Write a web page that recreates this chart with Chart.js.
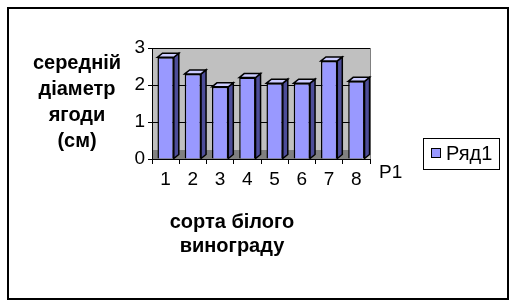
<!DOCTYPE html>
<html>
<head>
<meta charset="utf-8">
<script src="https://cdn.jsdelivr.net/npm/chart.js@4.4.1/dist/chart.umd.min.js"></script>
<style>
html,body{margin:0;padding:0;background:#fff;}
#wrap{position:relative;width:517px;height:307px;}
</style>
</head>
<body>
<div id="wrap"><canvas id="c" width="517" height="307"></canvas></div>
<script>
const categories = ['1','2','3','4','5','6','7','8'];
const seriesName = 'Ряд1';
const seriesValues = [2.75, 2.3, 1.95, 2.2, 2.05, 2.05, 2.65, 2.1];
const yTickValues = [0, 1, 2, 3];
const yTitleLines = ['середній', 'діаметр', 'ягоди', '(см)'];
const xTitleLines = ['сорта білого', 'винограду'];
const depthLabel = 'P1';

const FONT = '"Liberation Sans", Arial, sans-serif';

const deco = {
  id: 'deco',
  beforeDraw(chart) {
    const {ctx, chartArea: a} = chart;
    ctx.save();
    // back wall
    ctx.fillStyle = '#C0C0C0';
    ctx.fillRect(a.left, a.top, a.right - a.left, a.bottom - a.top);
    // floor
    ctx.fillStyle = '#808080';
    ctx.beginPath();
    ctx.moveTo(a.left, a.bottom - 9);
    ctx.lineTo(a.right, a.bottom - 9);
    ctx.lineTo(a.right - 8, a.bottom);
    ctx.lineTo(a.left, a.bottom);
    ctx.closePath();
    ctx.fill();
    // right wall edge
    ctx.strokeStyle = '#808080';
    ctx.lineWidth = 1;
    ctx.beginPath();
    ctx.moveTo(a.right + 0.5, a.top);
    ctx.lineTo(a.right + 0.5, a.bottom);
    ctx.stroke();
    ctx.restore();
  },
  afterDatasetsDraw(chart) {
    const {ctx} = chart;
    const meta = chart.getDatasetMeta(0);
    const dx = 5, dy = -4;
    ctx.save();
    ctx.lineWidth = 1.5;
    ctx.strokeStyle = '#000';
    meta.data.forEach(bar => {
      const p = bar.getProps(['x','y','base','width'], true);
      const r = p.x + p.width / 2, l = p.x - p.width / 2;
      ctx.fillStyle = '#4D4D99';
      ctx.beginPath();
      ctx.moveTo(r, p.y);
      ctx.lineTo(r + dx, p.y + dy);
      ctx.lineTo(r + dx, p.base + dy);
      ctx.lineTo(r, p.base);
      ctx.closePath();
      ctx.fill(); ctx.stroke();
      ctx.fillStyle = '#CCCCFF';
      ctx.beginPath();
      ctx.moveTo(l, p.y);
      ctx.lineTo(l + dx, p.y + dy);
      ctx.lineTo(r + dx, p.y + dy);
      ctx.lineTo(r, p.y);
      ctx.closePath();
      ctx.fill(); ctx.stroke();
    });
    ctx.restore();
  },
  afterDraw(chart) {
    const {ctx} = chart;
    ctx.save();
    ctx.strokeStyle = '#000';
    ctx.lineWidth = 2;
    ctx.strokeRect(8, 8, 500, 291);
    ctx.fillStyle = '#000';
    ctx.textAlign = 'center';
    ctx.textBaseline = 'middle';
    ctx.font = 'bold 20px ' + FONT;
    yTitleLines.forEach((t, i) => ctx.fillText(t, 77, 63 + i * 26));
    xTitleLines.forEach((t, i) => ctx.fillText(t, 232, 222 + i * 24));
    ctx.font = '19px ' + FONT;
    ctx.textAlign = 'left';
    ctx.fillText(depthLabel, 379, 173);
    ctx.lineWidth = 1;
    ctx.strokeRect(423.5, 138.5, 76, 31);
    const ds = chart.data.datasets[0];
    ctx.fillStyle = ds.backgroundColor;
    ctx.fillRect(431.5, 148.5, 9, 9);
    ctx.strokeRect(431.5, 148.5, 9, 9);
    ctx.fillStyle = '#000';
    ctx.font = '20px ' + FONT;
    ctx.fillText(ds.label, 446, 154);
    ctx.restore();
  }
};

new Chart(document.getElementById('c'), {
  type: 'bar',
  data: {
    labels: categories,
    datasets: [{
      label: seriesName,
      data: seriesValues,
      backgroundColor: '#9999FF',
      borderColor: '#000',
      borderWidth: 1.5,
      barPercentage: 0.6,
      categoryPercentage: 1.0
    }]
  },
  options: {
    responsive: false,
    animation: false,
    events: [],
    layout: {padding: {left: 118, top: 48, right: 147, bottom: 98}},
    plugins: {legend: {display: false}, tooltip: {enabled: false}},
    scales: {
      x: {
        grid: {display: true, drawOnChartArea: false, drawTicks: true, tickLength: 5, color: '#000', offset: true},
        border: {display: true, color: '#000'},
        ticks: {color: '#000', font: {family: FONT, size: 19}, padding: 4},
        afterFit(s) { s.height = 50; }
      },
      y: {
        min: 0, max: 3,
        afterBuildTicks(s) { s.ticks = yTickValues.map(v => ({value: v})); },
        grid: {display: true, drawOnChartArea: true, drawTicks: true, tickLength: 4, color: '#000'},
        border: {display: true, color: '#000'},
        ticks: {color: '#000', font: {family: FONT, size: 19}, padding: 3},
        afterFit(s) { s.width = 34; }
      }
    }
  },
  plugins: [deco]
});
</script>
</body>
</html>
